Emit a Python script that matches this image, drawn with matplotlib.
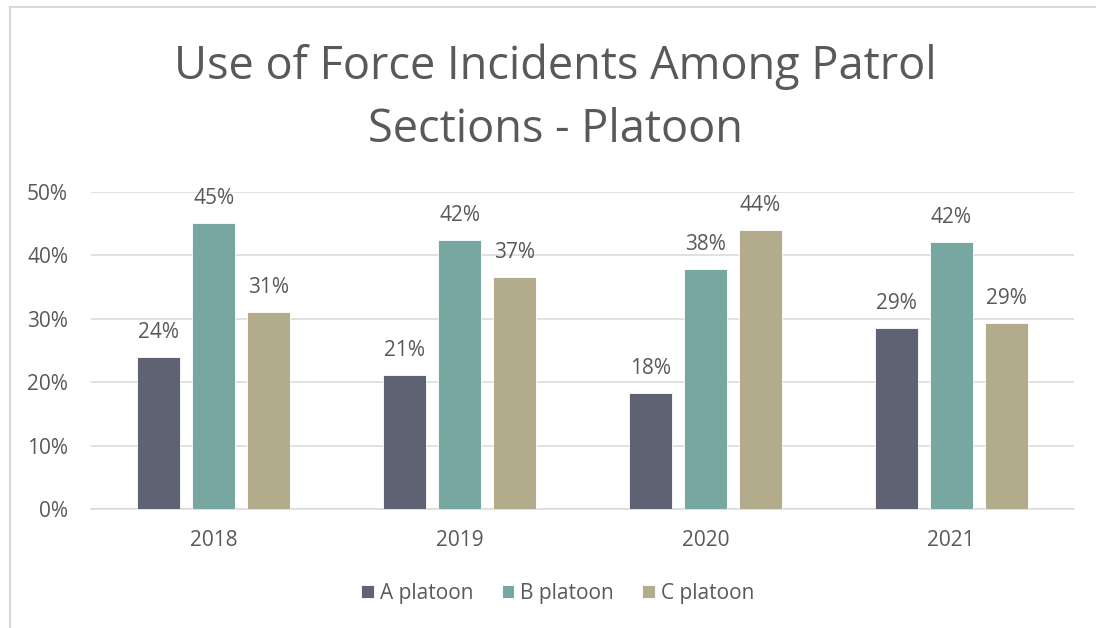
import numpy as np
import matplotlib.pyplot as plt
from matplotlib.lines import Line2D

plt.rcParams.update({
    'font.family': ['Open Sans', 'DejaVu Sans'],
    'font.size': 15,
    'text.color': '#595959',
    'xtick.color': '#595959',
    'ytick.color': '#595959',
    'figure.dpi': 100,
})

years = ['2018', '2019', '2020', '2021']
platoons = ['A platoon', 'B platoon', 'C platoon']
# percent of use-of-force incidents per platoon
a_pct = [23.9, 21.1, 18.3, 28.6]
b_pct = [45.0, 42.4, 37.9, 42.1]
c_pct = [31.0, 36.6, 43.9, 29.4]
colors = ['#5F6272', '#78A7A2', '#B2AC8C']

grid_c = '#D9D9D9'

fig = plt.figure(figsize=(10.96, 6.28))
ax = fig.add_axes([91/1096, 1 - 509.3/628, 983/1096, 317.6/628])

x = np.arange(len(years))
width = 0.175
step = 0.224
for i, (vals, name) in enumerate(zip([a_pct, b_pct, c_pct], platoons)):
    bars = ax.bar(x + (i - 1)*step, vals, width, color=colors[i], label=name,
                  edgecolor='white', linewidth=0.6, zorder=3)
    for b, v in zip(bars, vals):
        ax.annotate(f'{round(v):.0f}%', (b.get_x() + b.get_width()/2, v),
                    xytext=(0, 13.7), textcoords='offset points',
                    ha='center', va='baseline', fontsize=15, color='#595959')

ax.set_xlim(-0.5, 3.5)
ax.set_ylim(0, 50)
ax.set_yticks(np.arange(0, 51, 10))
ax.set_yticklabels([f'{t}%' for t in range(0, 51, 10)])
ax.set_xticks(x)
ax.set_xticklabels(years)
ax.tick_params(axis='y', length=0, pad=16.5)
ax.tick_params(axis='x', length=0, pad=15)
ax.grid(axis='y', color=grid_c, lw=1.1, zorder=0)
for s in ['top', 'right', 'left']:
    ax.spines[s].set_visible(False)
ax.spines['bottom'].set_color(grid_c)
ax.spines['bottom'].set_linewidth(1.1)

fig.text(0.507, 1 - 79.5/628, 'Use of Force Incidents Among Patrol', ha='center', va='baseline',
         fontsize=32.5, color='#595959')
fig.text(0.507, 1 - 141.7/628, 'Sections - Platoon', ha='center', va='baseline',
         fontsize=32.5, color='#595959')

fig.legend(loc='center', bbox_to_anchor=(0.509, 1 - 593/628), ncol=3, frameon=False,
           handlelength=0.6, handleheight=0.6, handletextpad=0.3, columnspacing=1.35,
           fontsize=15)

# outer chart border
fig.add_artist(Line2D([10/1096, 10/1096], [0, 1 - 7/628], color=grid_c, lw=1.5))
fig.add_artist(Line2D([10/1096, 1], [1 - 7/628, 1 - 7/628], color=grid_c, lw=1.5))

fig.savefig('out.png', dpi=100)
